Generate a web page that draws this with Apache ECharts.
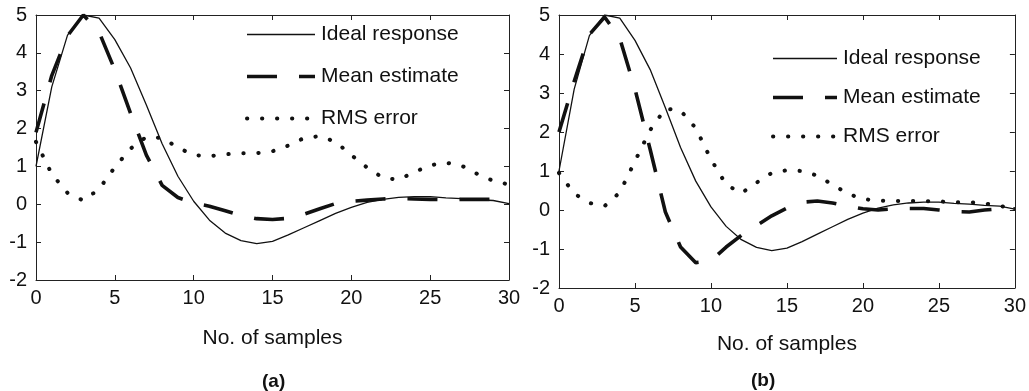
<!DOCTYPE html>
<html>
<head>
<meta charset="utf-8">
<script src="https://cdn.jsdelivr.net/npm/echarts@6/dist/echarts.min.js"></script>
<style>
html,body{margin:0;padding:0;background:#fff;}
#c{width:1029px;height:391px;}
</style>
</head>
<body>
<div id="c"></div>
<script>
var samples = [0,1,2,3,4,5,6,7,8,9,10,11,12,13,14,15,16,17,18,19,20,21,22,23,24,25,26,27,28,29,30];
var yTicks = [-2,-1,0,1,2,3,4,5];
var xTicks = [0,5,10,15,20,25,30];

var idealResponse = [1.0,3.1,4.47,5.0,4.92,4.35,3.6,2.62,1.6,0.74,0.08,-0.42,-0.76,-0.96,-1.04,-0.98,-0.81,-0.62,-0.43,-0.24,-0.08,0.05,0.13,0.18,0.2,0.2,0.17,0.15,0.12,0.1,0.02];

var meanEstimateA = [1.9,3.4,4.45,5.0,4.55,3.55,2.4,1.3,0.5,0.18,0.03,-0.05,-0.17,-0.3,-0.38,-0.4,-0.37,-0.26,-0.12,0.02,0.08,0.11,0.14,0.15,0.14,0.13,0.12,0.13,0.13,0.13,0.1];
var rmsErrorA = [1.65,0.8,0.3,0.1,0.4,0.98,1.47,1.78,1.75,1.5,1.3,1.27,1.32,1.35,1.35,1.4,1.55,1.75,1.8,1.65,1.3,0.97,0.7,0.65,0.85,1.03,1.1,1.02,0.8,0.62,0.52];

var meanEstimateB = [2.0,3.3,4.5,4.95,4.4,3.1,1.55,-0.05,-0.95,-1.35,-1.3,-0.95,-0.65,-0.4,-0.15,0.05,0.2,0.23,0.18,0.1,0.03,0.0,0.03,0.04,0.04,0.0,-0.04,-0.05,0.0,0.03,0.03];
var rmsErrorB = [0.95,0.42,0.18,0.1,0.45,1.25,2.05,2.6,2.55,2.1,1.3,0.65,0.43,0.7,0.95,1.02,1.0,0.88,0.65,0.42,0.28,0.24,0.23,0.23,0.23,0.22,0.2,0.2,0.17,0.1,0.06];

var seriesNames = ['Ideal response','Mean estimate','RMS error'];
var panelLabels = ['(a)','(b)'];
var axisName = 'No. of samples';

function pairs(vals){ return samples.map(function(x,i){ return [x, vals[i]]; }); }

var FONT = '"Liberation Sans", Arial, Helvetica, sans-serif';
var INK = '#111';

function styleFor(k){
  if(k===0) return {color:INK, width:1.3, type:'solid'};
  if(k===1) return {color:INK, width:3.6, type:[30,22], cap:'butt'};
  return {color:INK, width:4, type:[0.3,14.7], cap:'round'};
}

var grids = [
  {left:36, right:520, top:15, bottom:111},
  {left:559, right:12, top:15, bottom:103}
];
var nameGaps = [48, 46];

var lineCommon = {show:true, onZero:false, lineStyle:{color:'#222', width:1}};
var tickCommon = {show:true, inside:true, length:5, lineStyle:{color:'#222'}};

var xAxes = [], yAxes = [], series = [];
grids.forEach(function(g, gi){
  xAxes.push({
    gridIndex:gi, type:'value', min:xTicks[0], max:xTicks[xTicks.length-1], interval:5,
    name:axisName, nameLocation:'middle', nameGap:nameGaps[gi],
    nameTextStyle:{fontFamily:FONT, fontSize:21, color:INK},
    axisLine:lineCommon, axisTick:tickCommon,
    axisLabel:{fontFamily:FONT, fontSize:20, color:INK, margin:8},
    splitLine:{show:false}
  });
  xAxes.push({
    gridIndex:gi, type:'value', position:'top', min:0, max:30, interval:5,
    axisLine:lineCommon, axisTick:tickCommon,
    axisLabel:{show:false}, splitLine:{show:false}
  });
  yAxes.push({
    gridIndex:gi, type:'value', min:yTicks[0], max:yTicks[yTicks.length-1], interval:1,
    axisLine:lineCommon, axisTick:tickCommon,
    axisLabel:{fontFamily:FONT, fontSize:20, color:INK, margin:9},
    splitLine:{show:false}
  });
  yAxes.push({
    gridIndex:gi, type:'value', position:'right', min:-2, max:5, interval:1,
    axisLine:lineCommon, axisTick:tickCommon,
    axisLabel:{show:false}, splitLine:{show:false}
  });
});

var panelData = [
  [idealResponse, meanEstimateA, rmsErrorA],
  [idealResponse, meanEstimateB, rmsErrorB]
];
panelData.forEach(function(arrs, gi){
  arrs.forEach(function(vals, k){
    series.push({
      name:seriesNames[k], type:'line', xAxisIndex:gi*2, yAxisIndex:gi*2,
      data:pairs(vals), symbol:'none', smooth:false, silent:true, animation:false,
      lineStyle:styleFor(k), itemStyle:{color:INK}, z: 3-k
    });
  });
});

var legendData = seriesNames.map(function(n, k){
  var s = styleFor(k);
  return {name:n, lineStyle:{color:s.color, width:s.width, type:s.type, cap:s.cap || 'butt'}};
});
var legendBase = {
  orient:'vertical', itemWidth:68, itemHeight:20,
  itemStyle:{color:'rgba(0,0,0,0)', borderWidth:0, opacity:0},
  textStyle:{fontFamily:FONT, fontSize:21, color:INK, padding:[0,0,0,1]},
  data:legendData, selectedMode:false
};
var legends = [
  Object.assign({}, legendBase, {left:240, top:19, itemGap:21}),
  Object.assign({}, legendBase, {left:766, top:43, itemGap:18, itemWidth:64})
];

var chart = echarts.init(document.getElementById('c'), null, {renderer:'canvas'});
chart.setOption({
  animation:false,
  backgroundColor:'#fff',
  grid:grids,
  xAxis:xAxes,
  yAxis:yAxes,
  legend:legends,
  series:series,
  graphic:[
    {type:'text', left:262, top:372, style:{text:panelLabels[0], font:'bold 19px ' + FONT, fill:INK}},
    {type:'text', left:751, top:371, style:{text:panelLabels[1], font:'bold 19px ' + FONT, fill:INK}}
  ]
});
</script>
</body>
</html>
